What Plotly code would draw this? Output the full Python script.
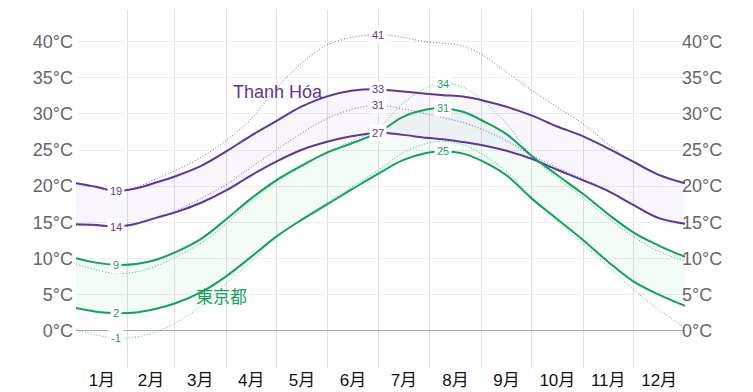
import numpy as np
import plotly.graph_objects as go

# ---------------- data ----------------
days = [0, 12, 24, 36, 48, 60, 75, 90, 105, 120, 135, 150, 165, 181, 196, 210, 220,
        232, 245, 258, 273, 288, 304, 319, 334, 349, 365]

# Thanh Hóa
th_hi = [20.4, 19.9, 19.3, 19.7, 20.5, 21.4, 22.8, 24.8, 27.0, 29.0, 31.0, 32.4, 33.2, 33.4,
         33.1, 32.8, 32.6, 32.4, 31.8, 31.0, 29.8, 28.3, 26.9, 25.2, 23.4, 21.6, 20.4]
th_lo = [14.7, 14.6, 14.4, 14.8, 15.6, 16.4, 17.7, 19.4, 21.5, 23.4, 25.0, 26.1, 26.9, 27.4,
         27.1, 26.7, 26.5, 26.1, 25.6, 24.9, 23.8, 22.3, 20.8, 19.3, 17.4, 15.6, 14.8]
th_feel_hi = [20.3, 19.8, 19.2, 19.8, 21.0, 22.2, 24.0, 26.3, 29.3, 33.5, 37.0, 39.5, 40.6, 41.0,
              40.6, 40.0, 39.8, 39.4, 38.0, 35.8, 33.3, 31.0, 28.6, 25.8, 23.3, 21.5, 20.3]
th_feel_lo = [14.6, 14.5, 14.3, 14.7, 15.6, 16.6, 18.3, 20.2, 22.6, 25.0, 27.3, 29.3, 30.6, 31.2,
              30.7, 30.0, 29.5, 28.8, 27.7, 26.3, 24.3, 22.6, 21.0, 19.4, 17.4, 15.5, 14.7]

# 東京都
tk_hi = [10.0, 9.4, 9.1, 9.2, 9.8, 10.9, 12.7, 15.4, 18.3, 20.8, 22.8, 24.6, 25.9, 27.4,
         29.6, 30.6, 30.8, 30.3, 28.9, 27.2, 24.2, 21.6, 18.9, 16.1, 13.6, 11.8, 10.2]
tk_lo = [3.1, 2.6, 2.4, 2.5, 3.0, 3.8, 5.3, 7.5, 10.2, 13.0, 15.3, 17.4, 19.5, 21.7,
         23.6, 24.6, 24.8, 24.5, 23.3, 21.5, 18.3, 15.5, 12.5, 9.5, 6.8, 5.0, 3.4]
tk_feel_hi = [9.2, 8.4, 7.9, 8.1, 8.9, 10.2, 12.1, 14.8, 17.9, 20.6, 22.6, 24.6, 26.2, 28.0,
              31.5, 33.6, 34.2, 33.7, 31.6, 28.7, 24.2, 21.2, 18.4, 15.6, 13.0, 11.0, 9.6]
tk_feel_lo = [0.1, -0.6, -1.1, -0.9, -0.2, 1.1, 3.4, 6.5, 9.6, 13.0, 15.4, 17.6, 19.8, 22.2,
              24.6, 25.9, 26.2, 25.7, 24.2, 22.0, 18.5, 15.2, 12.0, 8.8, 5.7, 2.9, 0.4]

month_labels = ["1月", "2月", "3月", "4月", "5月", "6月", "7月", "8月", "9月", "10月", "11月", "12月"]
month_starts = [0, 31, 59, 90, 120, 151, 181, 212, 243, 273, 304, 334, 365]
y_ticks = [0, 5, 10, 15, 20, 25, 30, 35, 40]
y_tick_text = [f"{v}°C" for v in y_ticks]

# ---------------- styling ----------------
PURPLE = "#5b35a0"
PURPLE_DOT = "#7a5cc4"
PURPLE_FILL = "rgba(110, 70, 200, 0.05)"
GREEN = "#10a35c"
GREEN_DOT = "#2cc07a"
GREEN_FILL = "rgba(20, 170, 100, 0.05)"
FONT = "Liberation Sans, Arial, Noto Sans CJK JP, sans-serif"
DOT = "1px,2px"

fig = go.Figure()

def band(lo, hi, color):
    fig.add_trace(go.Scatter(x=days, y=lo, mode="lines", line=dict(width=0, shape="spline"),
                             hoverinfo="skip", showlegend=False))
    fig.add_trace(go.Scatter(x=days, y=hi, mode="lines", line=dict(width=0, shape="spline"),
                             fill="tonexty", fillcolor=color, hoverinfo="skip", showlegend=False))

band(th_lo, th_hi, PURPLE_FILL)
band(tk_lo, tk_hi, GREEN_FILL)

def line(vals, color, width, dash):
    fig.add_trace(go.Scatter(x=days, y=vals, mode="lines",
                             line=dict(color=color, width=width, dash=dash, shape="spline", smoothing=1),
                             hoverinfo="skip", showlegend=False))

line(th_feel_hi, PURPLE_DOT, 1, DOT)
line(th_feel_lo, PURPLE_DOT, 1, DOT)
line(tk_feel_hi, GREEN_DOT, 1, DOT)
line(tk_feel_lo, GREEN_DOT, 1, DOT)
line(th_hi, PURPLE, 2, "solid")
line(th_lo, PURPLE, 2, "solid")
line(tk_hi, GREEN, 2, "solid")
line(tk_lo, GREEN, 2, "solid")

# dummy trace so the right axis is drawn
fig.add_trace(go.Scatter(x=[None], y=[None], yaxis="y2", showlegend=False, hoverinfo="skip"))

annotations = []

def label(vals, kind, color):
    arr = np.array(vals)
    i = int(arr.argmax() if kind == "max" else arr.argmin())
    annotations.append(dict(x=days[i], y=vals[i], text=str(int(round(vals[i]))), showarrow=False,
                            font=dict(size=11, color=color, family=FONT), bgcolor="white",
                            borderpad=2, xanchor="center", yanchor="middle"))

label(th_hi, "min", PURPLE); label(th_lo, "min", PURPLE)
label(th_hi, "max", PURPLE); label(th_lo, "max", PURPLE)
label(th_feel_hi, "max", PURPLE); label(th_feel_lo, "max", PURPLE)
label(tk_hi, "min", GREEN); label(tk_lo, "min", GREEN); label(tk_feel_lo, "min", GREEN)
label(tk_hi, "max", GREEN); label(tk_lo, "max", GREEN); label(tk_feel_hi, "max", GREEN)

annotations.append(dict(x=121, y=33.1, text="Thanh Hóa", showarrow=False,
                        font=dict(size=18, color=PURPLE, family=FONT)))
annotations.append(dict(x=87.5, y=4.6, text="東京都", showarrow=False,
                        font=dict(size=17, color=GREEN, family=FONT)))

mids = [(month_starts[k] + month_starts[k + 1]) / 2 for k in range(12)]
yrange = [-5.2, 44.4]

# the page body adds an 8px margin, so the figure is 8px smaller and margins shifted
fig.update_layout(
    width=745, height=384,
    margin=dict(l=68, r=68, t=2, b=22),
    paper_bgcolor="white", plot_bgcolor="white",
    font=dict(family=FONT),
    showlegend=False,
    annotations=annotations,
    xaxis=dict(range=[0, 365], tickvals=mids, ticktext=month_labels, showgrid=False,
               zeroline=False, ticks="", tickfont=dict(size=17, color="#111"),
               minor=dict(tickvals=month_starts[1:-1], showgrid=True, gridcolor="#e0e0e0",
                          gridwidth=1, ticks="")),
    yaxis=dict(range=yrange, tickvals=y_ticks, ticktext=y_tick_text, showgrid=True,
               gridcolor="#eeeeee", gridwidth=1, zeroline=True, zerolinecolor="#aaaaaa",
               zerolinewidth=1, ticks="", ticklabelstandoff=2,
               tickfont=dict(size=18, color="#666")),
    yaxis2=dict(range=yrange, tickvals=y_ticks, ticktext=y_tick_text, overlaying="y", side="right",
                showgrid=False, zeroline=False, ticks="", ticklabelstandoff=-4,
                tickfont=dict(size=18, color="#666")),
)

fig.write_html("out.html")
